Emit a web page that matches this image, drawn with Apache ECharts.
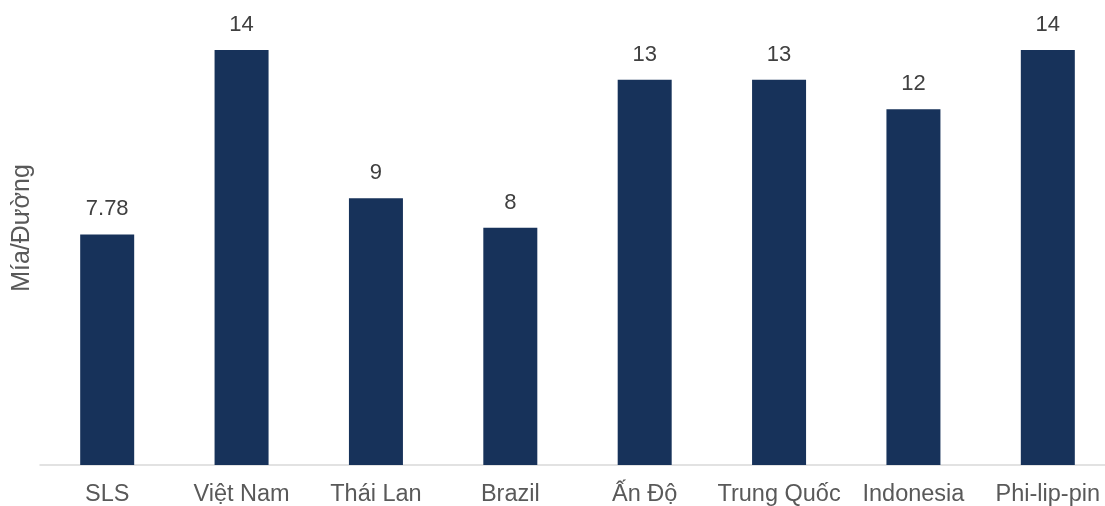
<!DOCTYPE html>
<html>
<head>
<meta charset="utf-8">
<script src="https://cdn.jsdelivr.net/npm/echarts@6/dist/echarts.min.js"></script>
<style>html,body{margin:0;padding:0;background:#fff}#c{width:1105px;height:506px}</style>
</head>
<body>
<div id="c"></div>
<script>
const categories = ['SLS', 'Việt Nam', 'Thái Lan', 'Brazil', 'Ấn Độ', 'Trung Quốc', 'Indonesia', 'Phi-lip-pin'];
const values = [7.78, 14, 9, 8, 13, 13, 12, 14];
const yAxisTitle = 'Mía/Đường';

const chart = echarts.init(document.getElementById('c'));
chart.setOption({
  animation: false,
  textStyle: { fontFamily: 'Liberation Sans, Arial, sans-serif' },
  grid: { left: 40, width: 1075, top: 50, height: 415, containLabel: false, outerBoundsMode: 'none' },
  xAxis: {
    type: 'category',
    data: categories,
    axisLine: { lineStyle: { color: '#d9d9d9', width: 1.5 } },
    axisTick: { show: false },
    axisLabel: { color: '#595959', fontSize: 23.5, margin: 18, interval: 0, fontFamily: 'Liberation Sans, Arial, sans-serif' }
  },
  yAxis: {
    type: 'value',
    min: 0,
    max: 14,
    show: false,
    splitLine: { show: false }
  },
  graphic: [{
    type: 'text',
    x: 22, y: 228,
    rotation: Math.PI / 2,
    style: {
      text: yAxisTitle,
      fill: '#595959',
      font: '25px "Liberation Sans", Arial, sans-serif',
      textAlign: 'center',
      textVerticalAlign: 'middle'
    }
  }],
  series: [{
    type: 'bar',
    data: values,
    barWidth: 54,
    itemStyle: { color: '#17325a' },
    label: {
      show: true,
      position: 'top',
      distance: 14,
      color: '#404040',
      fontSize: 22,
      fontFamily: 'Liberation Sans, Arial, sans-serif'
    }
  }]
});
</script>
</body>
</html>
